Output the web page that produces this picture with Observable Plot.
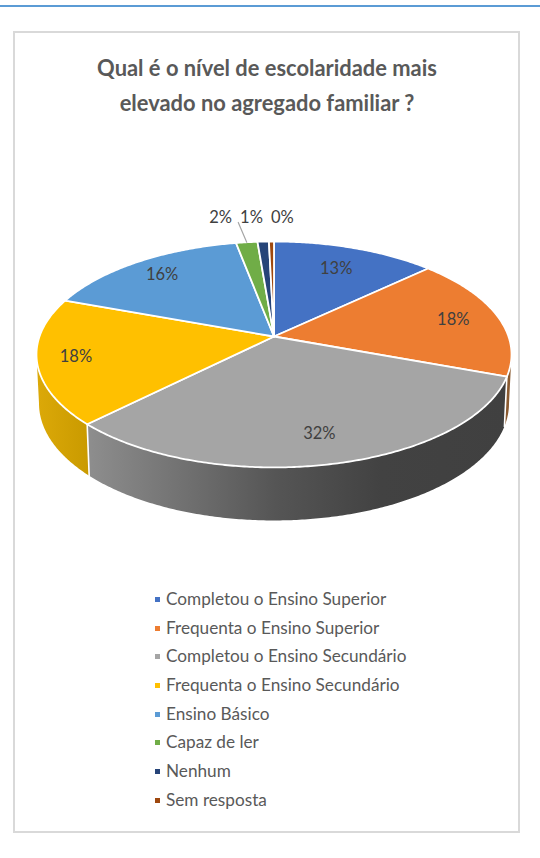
<!DOCTYPE html>
<html lang="pt">
<head>
<meta charset="utf-8">
<script src="https://cdn.jsdelivr.net/npm/d3@7"></script>
<script src="https://cdn.jsdelivr.net/npm/@observablehq/plot@0.6"></script>
<style>
  html, body { margin: 0; background: #fff; }
  #page { position: relative; width: 540px; height: 858px; overflow: hidden; font-family: Lato, "Open Sans", sans-serif; }
  #rule { position: absolute; left: 0; top: 5px; width: 540px; height: 2px; background: #5b9bd5; }
  #card { position: absolute; left: 13px; top: 31px; width: 503px; height: 798px; border: 2px solid #d9d9d9; }
  #title { position: absolute; left: 0; top: 50px; width: 534px; margin: 0; text-align: center; color: #595959;
           font-size: 21.9px; font-weight: 700; line-height: 35px; }
  #chart { position: absolute; left: 0; top: 150px; }
  #legend { position: absolute; left: 155px; top: 585px; margin: 0; padding: 0; list-style: none; color: #595959; font-size: 17.2px; }
  #legend li { height: 28.7px; line-height: 28.7px; white-space: nowrap; display: flex; align-items: center; }
  #legend i { display: block; width: 5px; height: 5px; margin-right: 6px; }
</style>
</head>
<body>
<div id="page">
  <div id="rule"></div>
  <div id="card"></div>
  <h1 id="title">Qual é o nível de escolaridade mais<br>elevado no agregado familiar ?</h1>
  <div id="chart"></div>
  <ul id="legend"></ul>
</div>
<script>
// Data
const categories = ["Completou o Ensino Superior", "Frequenta o Ensino Superior", "Completou o Ensino Secundário",
  "Frequenta o Ensino Secundário", "Ensino Básico", "Capaz de ler", "Nenhum", "Sem resposta"];
const shares = [13.0, 17.6, 31.9, 18.1, 16.4, 1.7, 0.9, 0.4];
const colors = ["#4472c4", "#ed7d31", "#a5a5a5", "#ffc000", "#5b9bd5", "#70ad47", "#264478", "#9e480e"];

// Perspective of the tilted disc
const k = 0.159;
const lowerScaleX = 232 / 234.5, lowerScaleY = 114 / 110.1, lowerDrop = 48.4 / 110.1;
const top0 = 150;
const TAU = 2 * Math.PI;
const project = (a, r = 1) => {
  const s = r * Math.sin(a), u = r * Math.cos(a), w = 1 + k * u;
  return {x: s / w, y: u / w};
};
const lower = (a) => {
  const p = project(a);
  return {x: p.x * lowerScaleX, y: p.y * lowerScaleY - lowerDrop};
};
const total = d3.sum(shares);
const ends = d3.cumsum(shares).map((c) => c / total * TAU);
const starts = ends.map((e, i) => (i ? ends[i - 1] : 0));
const arcAngles = (a0, a1) => {
  const n = Math.max(2, Math.ceil((a1 - a0) / 0.01));
  return d3.range(n + 1).map((i) => a0 + (a1 - a0) * i / n);
};

// Top face
const sliceRows = categories.flatMap((name, i) => [
  {name, x: 0, y: 0},
  ...arcAngles(starts[i], ends[i]).map((a) => ({name, ...project(a)}))
]);

// Visible wall: from the right-most to the left-most point of the rim
const rimEdge = Math.acos(-k);
const wall = (a0, a1) => {
  const as = arcAngles(a0, a1);
  return [...as.map((a) => project(a)), ...as.slice().reverse().map((a) => lower(a))];
};
const wallOrange = wall(rimEdge, ends[1]);
const wallGray = wall(starts[2], ends[2]);
const wallYellow = wall(starts[3], TAU - rimEdge);
const seams = [ends[1], ends[2]].flatMap((a, i) => [{s: i, ...project(a)}, {s: i, ...lower(a)}]);

// Labels
const fmt = (v) => Math.round(v) + "%";
const labelRadius = [0.74, 0.80, 0.79, 0.84, 0.81];
const insideLabels = labelRadius.map((r, i) => ({text: fmt(shares[i]), ...project((starts[i] + ends[i]) / 2, r)}));
const outsideX = [-0.228, -0.096, 0.036], outsideY = 1.08;
const outsideLabels = outsideX.map((x, j) => ({text: fmt(shares[5 + j]), x, y: outsideY}));
const greenMid = project((starts[5] + ends[5]) / 2);
const leader = [greenMid, {x: greenMid.x - 0.036, y: greenMid.y + 0.18}];

const defs = () => {
  const d = d3.create("svg:defs");
  const grad = (id, stops) => {
    const g = d.append("linearGradient").attr("id", id).attr("x1", 0).attr("x2", 1).attr("y1", 0).attr("y2", 0);
    stops.forEach(([o, c]) => g.append("stop").attr("offset", o).attr("stop-color", c));
  };
  grad("wall-gray", [[0, "#8e8e8e"], [0.45, "#555555"], [0.7, "#424242"], [1, "#404040"]]);
  grad("wall-yellow", [[0, "#dca908"], [1, "#c99a00"]]);
  return d.node();
};

const chart = Plot.plot({
  width: 540,
  height: 400,
  margin: 0,
  x: {domain: [-1, 1], range: [273.5 - 234.5, 273.5 + 234.5], axis: null},
  y: {domain: [-1, 1], range: [336 + 110.1 - top0, 336 - 110.1 - top0], axis: null},
  color: {domain: categories, range: colors},
  style: {background: "transparent", fontFamily: "Lato, 'Open Sans', sans-serif", overflow: "visible"},
  marks: [
    defs,
    Plot.line(wallOrange, {x: "x", y: "y", fill: "#8a5a30", curve: "linear-closed"}),
    Plot.line(wallYellow, {x: "x", y: "y", fill: "url(#wall-yellow)", curve: "linear-closed"}),
    Plot.line(wallGray, {x: "x", y: "y", fill: "url(#wall-gray)", curve: "linear-closed"}),
    Plot.line(seams, {x: "x", y: "y", z: "s", stroke: "#fff", strokeWidth: 1.6}),
    Plot.line(sliceRows, {x: "x", y: "y", z: "name", fill: "name", stroke: "#fff", strokeWidth: 1.8,
      strokeLinejoin: "round", curve: "linear-closed"}),
    Plot.line(leader, {x: "x", y: "y", stroke: "#a6a6a6", strokeWidth: 1.2}),
    Plot.text(insideLabels, {x: "x", y: "y", text: "text", fontSize: 16.5, fill: "#404040"}),
    Plot.text(outsideLabels, {x: "x", y: "y", text: "text", fontSize: 16.5, fill: "#404040"})
  ]
});
document.getElementById("chart").appendChild(chart);

const legend = d3.select("#legend");
categories.forEach((name, i) => {
  const li = legend.append("li");
  li.append("i").style("background", colors[i]);
  li.append("span").text(name);
});
</script>
</body>
</html>
